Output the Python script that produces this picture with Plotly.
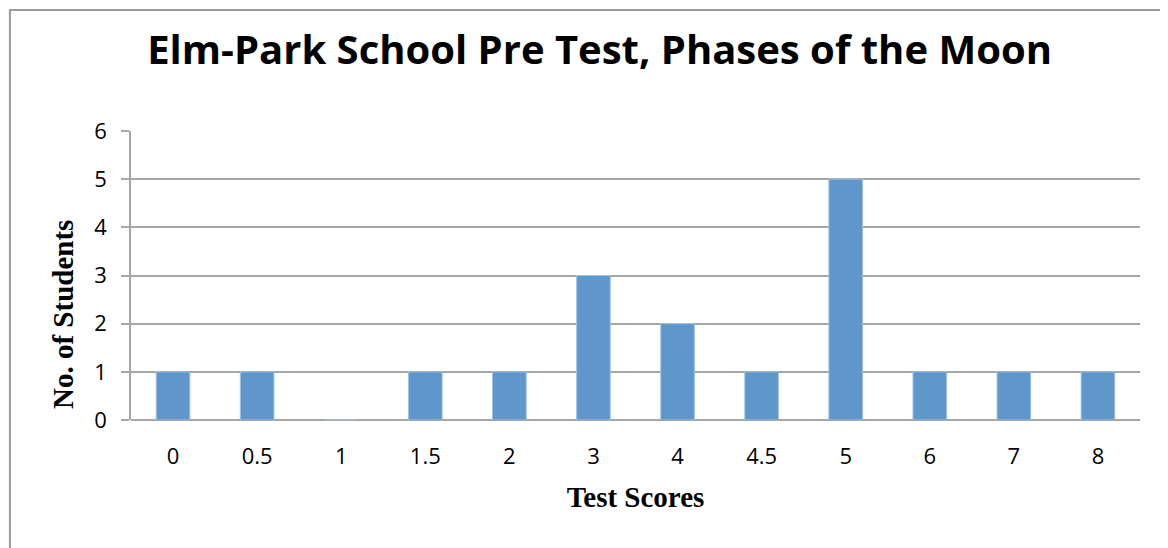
import plotly.graph_objects as go

categories = ["0", "0.5", "1", "1.5", "2", "3", "4", "4.5", "5", "6", "7", "8"]
students = [1, 1, 0, 1, 1, 3, 2, 1, 5, 1, 1, 1]
y_ticks = [0, 1, 2, 3, 4, 5, 6]

fig = go.Figure()
fig.add_trace(go.Bar(
    x=categories, y=students,
    marker=dict(color="#6097CA", line=dict(color="#9DC3E6", width=1)),
    width=0.4,
))

grid = "#A6A6A6"
fig.update_layout(
    width=1160, height=540,
    margin=dict(l=123, r=28, t=123, b=128),
    paper_bgcolor="white", plot_bgcolor="white",
    showlegend=False,
    title=dict(text="<b>Elm-Park School Pre Test, Phases of the Moon</b>",
               x=0.51, xanchor="center", y=0.922, yanchor="middle",
               font=dict(family="Open Sans", size=40, color="black")),
    xaxis=dict(type="category", showgrid=False, showline=False, ticks="",
               ticklabelstandoff=21,
               tickfont=dict(family="Open Sans", size=22, color="black"),
               title=dict(text="<b>Test Scores</b>", standoff=17,
                          font=dict(family="Liberation Serif", size=29, color="black"))),
    yaxis=dict(range=[0, 6], tickvals=y_ticks, showgrid=True, gridcolor=grid, gridwidth=1.5,
               showline=True, linecolor=grid, linewidth=1.5, ticks="outside",
               ticklen=8, tickcolor=grid, tickwidth=1.5, zeroline=True,
               zerolinecolor=grid, zerolinewidth=1.5, ticklabelstandoff=10,
               tickfont=dict(family="Open Sans", size=22, color="black")),
    annotations=[dict(text="<b>No. of Students</b>", xref="paper", yref="paper",
                      x=-0.0674, y=0.3668, xanchor="center", yanchor="middle",
                      textangle=-90, showarrow=False,
                      font=dict(family="Liberation Serif", size=29, color="black"))],
    shapes=[dict(type="rect", xref="paper", yref="paper",
                 x0=-0.12, x1=1.1, y0=-0.5, y1=1.4187,
                 line=dict(color="#9A9A9A", width=2), fillcolor="rgba(0,0,0,0)", layer="below")],
)
fig.write_html("out.html")
